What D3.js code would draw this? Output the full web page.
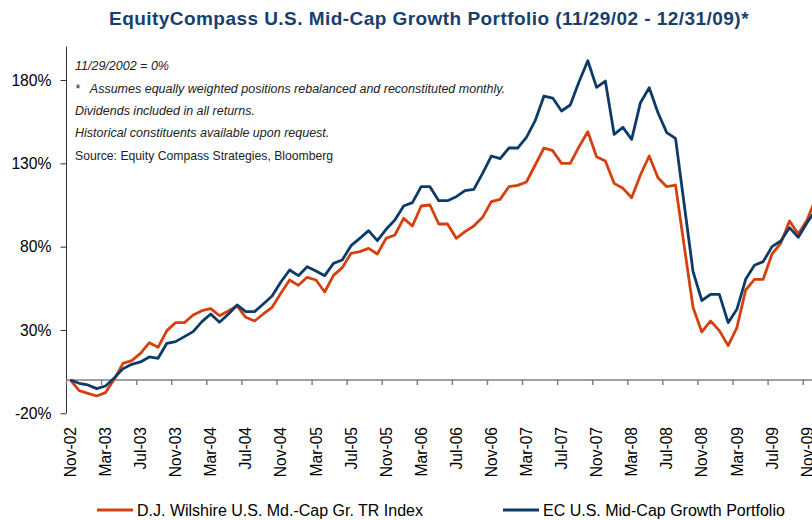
<!DOCTYPE html>
<html>
<head>
<meta charset="utf-8">
<script src="https://cdn.jsdelivr.net/npm/d3@7"></script>
<style>
  body { margin: 0; background: #fff; }
  svg { display: block; font-family: "Liberation Sans", Arial, sans-serif; }
</style>
</head>
<body>
<div id="chart"></div>
<script>
// Monthly categories Nov-02 .. Dec-09
const months = d3.timeMonth.range(new Date(2002, 10, 1), new Date(2010, 0, 2)).map(d3.timeFormat("%b-%y"));

const tickLabels = ["Nov-02", "Mar-03", "Jul-03", "Nov-03", "Mar-04", "Jul-04", "Nov-04", "Mar-05",
    "Jul-05", "Nov-05", "Mar-06", "Jul-06", "Nov-06", "Mar-07", "Jul-07", "Nov-07", "Mar-08",
    "Jul-08", "Nov-08", "Mar-09", "Jul-09", "Nov-09"];

const yTicks = [-20, 30, 80, 130, 180];

// D.J. Wilshire U.S. Mid-Cap Growth TR Index, cumulative return %
const wilshire = [0, -6.4, -8.0, -9.6, -7.6, 0.4, 10.0, 11.6, 16.0, 22.4, 19.6, 29.6,
    34.4, 34.4, 39.0, 41.6, 42.8, 38.6, 41.4, 44.4, 37.6, 35.4, 39.6, 43.6,
    52.0, 60.0, 56.8, 61.6, 60.0, 52.8, 62.8, 67.4, 76.0, 77.0, 79.0, 75.6,
    85.0, 87.0, 97.0, 92.4, 104.4, 105.0, 93.6, 93.6, 85.0, 89.0, 92.4, 97.6,
    107.0, 108.4, 116.0, 116.8, 118.8, 129.0, 139.2, 137.6, 130.0, 130.0, 140.0, 149.0,
    134.0, 131.4, 118.0, 115.0, 109.4, 123.0, 134.4, 121.4, 116.0, 117.0, 80.0, 43.5,
    28.8, 35.4, 29.6, 20.6, 31.4, 54.0, 60.4, 60.4, 75.6, 82.0, 95.4, 87.6,
    96.0, 109.0];

// EC U.S. Mid-Cap Growth Portfolio, cumulative return %
const ecPortfolio = [0, -2.0, -3.0, -5.2, -3.6, 1.2, 6.8, 9.4, 10.8, 13.8, 13.0, 22.0,
    23.0, 26.0, 29.0, 35.0, 39.6, 34.6, 39.4, 45.0, 41.0, 41.0, 45.6, 50.4,
    58.8, 66.0, 62.6, 68.0, 65.4, 62.6, 70.0, 72.0, 80.6, 85.0, 89.6, 83.6,
    90.4, 96.0, 104.4, 106.4, 116.0, 116.0, 107.6, 107.6, 110.0, 113.6, 114.4, 124.0,
    134.4, 132.8, 139.2, 139.2, 145.6, 155.6, 170.4, 169.2, 161.4, 165.0, 179.0, 191.6,
    175.6, 179.4, 147.4, 151.6, 144.4, 166.4, 175.4, 160.4, 148.4, 145.0, 105.0, 65.0,
    47.7, 51.4, 51.4, 34.4, 42.4, 60.4, 68.8, 71.0, 80.0, 83.4, 91.4, 85.6,
    94.4, 102.0];

const seriesNames = ["D.J. Wilshire U.S. Md.-Cap Gr. TR Index", "EC U.S. Mid-Cap Growth Portfolio"];
const colors = ["#D4410E", "#0C3B69"];

const notes = ["11/29/2002 = 0%",
    "*   Assumes equally weighted positions rebalanced and reconstituted monthly.",
    "Dividends included in all returns.",
    "Historical constituents available upon request."];
const source = "Source: Equity Compass Strategies, Bloomberg";

const W = 812, H = 520;
const svg = d3.select("#chart").append("svg")
    .attr("width", W)
    .attr("height", H);

const x = d3.scaleBand()
    .domain(months)
    .range([66, 66 + months.length * 8.77]);

const y = d3.scaleLinear()
    .domain([-20, 200])
    .range([413.3, 46.7]);

const cx = d => x(d) + x.bandwidth() / 2;

// Title
svg.append("text")
    .attr("x", 429)
    .attr("y", 25)
    .attr("text-anchor", "middle")
    .style("font-size", "19px")
    .style("font-weight", "bold")
    .style("letter-spacing", "0.45px")
    .style("fill", "#17406D")
    .text("EquityCompass U.S. Mid-Cap Growth Portfolio (11/29/02 - 12/31/09)*");

// Y axis
const yAxis = svg.append("g")
    .attr("transform", `translate(${x.range()[0] + 0.5},0)`)
    .call(d3.axisLeft(y).tickValues(yTicks).tickSize(6).tickPadding(9).tickFormat(d => d + "%"))
    .call(g => g.select(".domain").attr("d", `M0,${y(200)}V${y(-20)}`).attr("stroke", "#333"));
yAxis.selectAll(".tick line").attr("stroke", "#333");
yAxis.selectAll("text").style("font-size", "15.7px").style("fill", "#000").attr("font-family", null);

// X axis at 0%
const xAxis = svg.append("g");
xAxis.append("line")
    .attr("x1", x.range()[0]).attr("x2", W)
    .attr("y1", y(0)).attr("y2", y(0))
    .attr("stroke", "#808080").attr("stroke-width", 1.5);
xAxis.selectAll(".xtick")
    .data(tickLabels)
    .enter().append("line")
    .attr("x1", d => x(d) + 0.5).attr("x2", d => x(d) + 0.5)
    .attr("y1", y(0)).attr("y2", y(0) + 5)
    .attr("stroke", "#808080").attr("stroke-width", 1.5);

svg.append("g").selectAll("text")
    .data(tickLabels)
    .enter().append("text")
    .attr("transform", d => `translate(${cx(d)},427) rotate(-90)`)
    .attr("dy", "0.36em")
    .attr("text-anchor", "end")
    .style("font-size", "15.6px")
    .style("fill", "#000")
    .text(d => d);

// Notes
const notesG = svg.append("g").style("font-size", "12.5px").style("fill", "#222");
notes.forEach((t, i) => {
    notesG.append("text")
        .attr("x", 75)
        .attr("y", [70, 93, 115, 137][i])
        .style("font-style", "italic")
        .style("white-space", "pre")
        .text(t);
});
notesG.append("text")
    .attr("x", 75)
    .attr("y", 160)
    .style("font-size", "12.2px")
    .text(source);

// Lines
const line = d3.line()
    .x((d, i) => cx(months[i]))
    .y(d => y(d));

[wilshire, ecPortfolio].forEach((s, k) => {
    svg.append("path")
        .datum(s)
        .attr("fill", "none")
        .attr("stroke", colors[k])
        .attr("stroke-width", 2.8)
        .attr("stroke-linejoin", "round")
        .attr("d", line);
});

// Legend
const legendX = [97, 503];
seriesNames.forEach((name, k) => {
    const g = svg.append("g").attr("transform", `translate(${legendX[k]},510)`);
    g.append("line")
        .attr("x1", 0).attr("x2", 36)
        .attr("stroke", colors[k]).attr("stroke-width", 3);
    g.append("text")
        .attr("x", 40)
        .attr("y", 6)
        .style("font-size", "16px")
        .style("fill", "#000")
        .text(name);
});
</script>
</body>
</html>
